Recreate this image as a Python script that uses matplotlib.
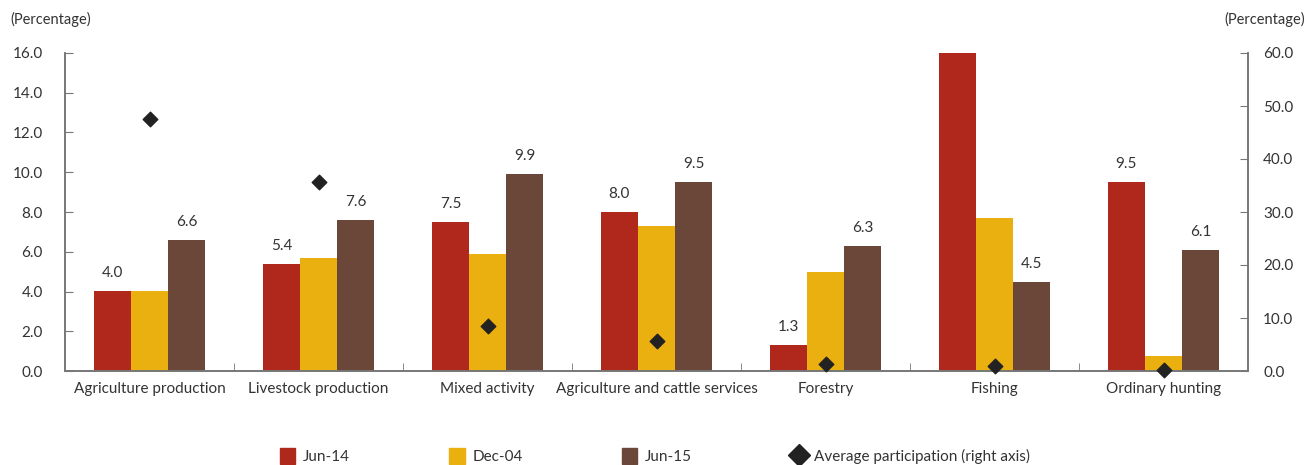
import numpy as np
import matplotlib
matplotlib.use("Agg")
import matplotlib.pyplot as plt
from matplotlib.lines import Line2D
from matplotlib.patches import Patch

categories = ["Agriculture production", "Livestock production", "Mixed activity",
              "Agriculture and cattle services", "Forestry", "Fishing", "Ordinary hunting"]
jun14 = [4.05, 5.4, 7.5, 8.0, 1.3, 16.0, 9.5]
dec04 = [4.05, 5.7, 5.9, 7.3, 5.0, 7.7, 0.75]
jun15 = [6.6, 7.6, 9.9, 9.5, 6.3, 4.5, 6.1]
avg_participation = [47.5, 35.6, 8.5, 5.6, 1.4, 0.9, 0.2]
jun14_labels = ["4.0", "5.4", "7.5", "8.0", "1.3", None, "9.5"]
jun15_labels = ["6.6", "7.6", "9.9", "9.5", "6.3", "4.5", "6.1"]

RED, YELLOW, BROWN, DIAMOND = "#B0281C", "#EAB010", "#6B473A", "#222222"
TXT = "#333333"
SPINE = "#777777"

plt.rcParams["font.family"] = ["Lato", "DejaVu Sans"]

fig = plt.figure(figsize=(13.09, 4.65), dpi=100)
ax = fig.add_axes([65 / 1309, 1 - 371 / 465, (1248 - 65) / 1309, (371 - 53) / 465])
ax2 = ax.twinx()

x = np.arange(len(categories))
w = 0.22
ax.bar(x - w, jun14, w, color=RED, zorder=2)
ax.bar(x, dec04, w, color=YELLOW, zorder=2)
ax.bar(x + w, jun15, w, color=BROWN, zorder=2)
for xi, v, lab in zip(x - w, jun14, jun14_labels):
    if lab:
        ax.text(xi, v + 0.55, lab, ha="center", va="bottom", fontsize=11, color=TXT)
for xi, v, lab in zip(x + w, jun15, jun15_labels):
    ax.text(xi, v + 0.55, lab, ha="center", va="bottom", fontsize=11, color=TXT)

ax2.scatter(x, avg_participation, marker="D", s=55, color=DIAMOND, zorder=3, clip_on=False)

ax.set_xlim(-0.5, len(categories) - 0.5)
ax.set_ylim(0, 16)
ax2.set_ylim(0, 60)
ax.set_yticks(np.arange(0, 16.1, 2))
ax.set_yticklabels([f"{v:.1f}" for v in np.arange(0, 16.1, 2)])
ax2.set_yticks(np.arange(0, 60.1, 10))
ax2.set_yticklabels([f"{v:.1f}" for v in np.arange(0, 60.1, 10)])

ax.set_xticks(x)
ax.set_xticklabels(categories)
ax.set_xticks(np.arange(0.5, len(categories) - 0.5), minor=True)
ax.tick_params(axis="x", which="major", length=0, pad=8, labelsize=11, labelcolor=TXT)
ax.tick_params(axis="x", which="minor", direction="in", length=6, color=SPINE)
ax.tick_params(axis="y", direction="in", length=6, color=SPINE, labelsize=11,
               labelcolor=TXT, pad=16)
ax2.tick_params(axis="y", direction="in", length=6, color=SPINE, labelsize=11,
                labelcolor=TXT, pad=11)

for a in (ax, ax2):
    a.spines["top"].set_visible(False)
    for s in ("left", "right", "bottom"):
        a.spines[s].set_color(SPINE)
        a.spines[s].set_linewidth(1.2)

fig.text(10 / 1309, 1 - 19 / 465, "(Percentage)", ha="left", va="center", fontsize=10.5, color=TXT)
fig.text(1305 / 1309, 1 - 19 / 465, "(Percentage)", ha="right", va="center", fontsize=10.5, color=TXT)

handles = [Patch(color=RED, label="Jun-14"), Patch(color=YELLOW, label="Dec-04"),
           Patch(color=BROWN, label="Jun-15"),
           Line2D([], [], marker="D", color=DIAMOND, ls="none", markersize=11,
                  label="Average participation (right axis)")]
fig.legend(handles=handles, loc="center", bbox_to_anchor=(655 / 1309, 1 - 456 / 465), ncol=4,
           frameon=False, fontsize=11, columnspacing=6.5, handlelength=1.0,
           handleheight=1.2, handletextpad=0.5, labelcolor=TXT)

fig.savefig("out.png", dpi=100)
